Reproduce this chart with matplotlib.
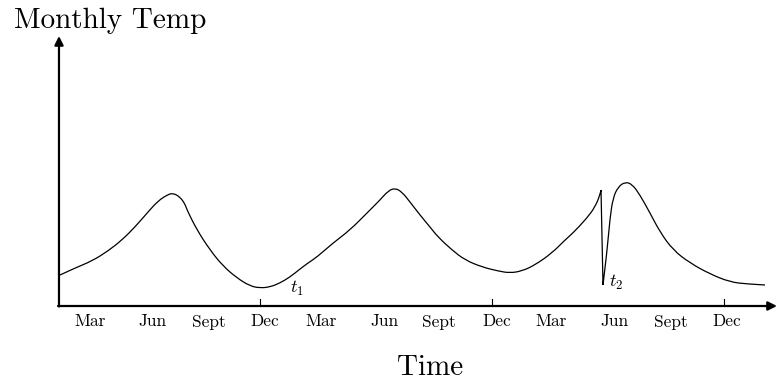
import matplotlib
matplotlib.use("Agg")
import matplotlib.pyplot as plt
from matplotlib.path import Path
from matplotlib.patches import PathPatch

plt.rcParams['mathtext.fontset'] = 'cm'
plt.rcParams['font.family'] = ['cmr10', 'DejaVu Serif']
plt.rcParams['axes.formatter.use_mathtext'] = True

# Time in months (Dec = 12, 24, 36), temperature in arbitrary units
months = [1.655, 2.431, 3.310, 4.138, 4.862, 5.534, 6.207, 6.724, 7.190, 7.500,
          7.862, 8.121, 8.224, 8.741, 9.414, 10.086, 10.810, 11.483, 12.000,
          12.517, 13.034, 13.552, 14.069, 14.483, 14.948, 15.776, 16.655,
          17.534, 18.207, 18.621, 18.983, 19.345, 19.759, 20.276, 20.793,
          21.207, 21.931, 22.603, 23.483, 24.310, 24.931, 25.552, 26.224,
          27.103, 27.776, 28.190, 28.914, 29.328, 29.586, 29.638, 29.741,
          29.948, 30.103, 30.259, 30.517, 30.879, 31.241, 31.655, 32.172,
          32.690, 33.362, 34.241, 35.276, 36.310, 37.190, 38.121]
temps = [3.1, 3.8, 4.5, 5.5, 6.6, 7.9, 9.4, 10.5, 11.1, 11.3,
         10.9, 10.2, 9.6, 7.6, 5.6, 4.0, 2.8, 2.0, 1.8,
         1.9, 2.3, 2.9, 3.7, 4.3, 4.9, 6.3, 7.6,
         9.3, 10.6, 11.5, 11.8, 11.4, 10.4, 9.1, 7.9,
         6.9, 5.6, 4.6, 3.9, 3.5, 3.3, 3.5, 4.1,
         5.3, 6.6, 7.3, 8.8, 9.9, 11.1, 11.6, 2.1,
         5.4, 8.8, 10.8, 11.9, 12.4, 12.2, 11.1, 9.3,
         7.4, 5.6, 4.3, 3.2, 2.4, 2.2, 2.1]
# indices of sharp corners (the sudden drop at t2)
corners = [49, 50]

month_labels = ['Mar', 'Jun', 'Sept', 'Dec'] * 3
label_pos = [3.2, 6.45, 9.35, 12.25, 15.15, 18.45, 21.25, 24.25,
             27.05, 30.35, 33.25, 36.15]
dec_ticks = [12, 24, 36]
events = ['$t_1$', '$t_2$']
event_pos = [(13.55, 1.3), (30.05, 1.95)]

fig = plt.figure(figsize=(7.77, 3.80), dpi=100)
ax = fig.add_axes([0, 0, 1, 1])
ax.set_xlim(-1.448, 38.741)
ax.set_ylim(-7.4, 30.6)
ax.axis('off')

x0 = 1.603
ax.annotate('', xy=(38.74, 0), xytext=(x0 - 0.05, 0),
            arrowprops=dict(arrowstyle='-|>', lw=1.6, color='black',
                            mutation_scale=13, shrinkA=0, shrinkB=0))
ax.annotate('', xy=(x0, 27.0), xytext=(x0, -0.05),
            arrowprops=dict(arrowstyle='-|>', lw=1.6, color='black',
                            mutation_scale=13, shrinkA=0, shrinkB=0))

for t in dec_ticks:
    ax.plot([t, t], [0, 0.75], color='black', lw=0.8)


def smooth_path(xs, ys, breaks):
    verts, codes = [], []
    bounds = [0] + breaks + [len(xs) - 1]
    for a, b in zip(bounds[:-1], bounds[1:]):
        pts = list(zip(xs[a:b + 1], ys[a:b + 1]))
        verts.append(pts[0]); codes.append(Path.MOVETO)
        if len(pts) == 2:
            verts.append(pts[1]); codes.append(Path.LINETO)
            continue
        n = len(pts) - 1
        for i in range(1, n):
            c = pts[i]
            if i < n - 1:
                e = ((pts[i][0] + pts[i + 1][0]) / 2, (pts[i][1] + pts[i + 1][1]) / 2)
            else:
                e = pts[n]
            verts += [c, e]; codes += [Path.CURVE3, Path.CURVE3]
    return Path(verts, codes)


ax.add_patch(PathPatch(smooth_path(months, temps, corners), facecolor='none',
                       edgecolor='black', lw=0.9, joinstyle='miter'))

for lab, p in zip(month_labels, label_pos):
    ax.text(p, -2.05, lab, ha='center', va='baseline', fontsize=12.5)

for e, (px, py) in zip(events, event_pos):
    ax.text(px, py, e, ha='left', va='baseline', fontsize=13)

ax.text(-0.72, 27.8, 'Monthly Temp', ha='left', va='baseline', fontsize=21)
ax.text(20.79, -6.9, 'Time', ha='center', va='baseline', fontsize=21)

fig.savefig('out.png', dpi=100)
